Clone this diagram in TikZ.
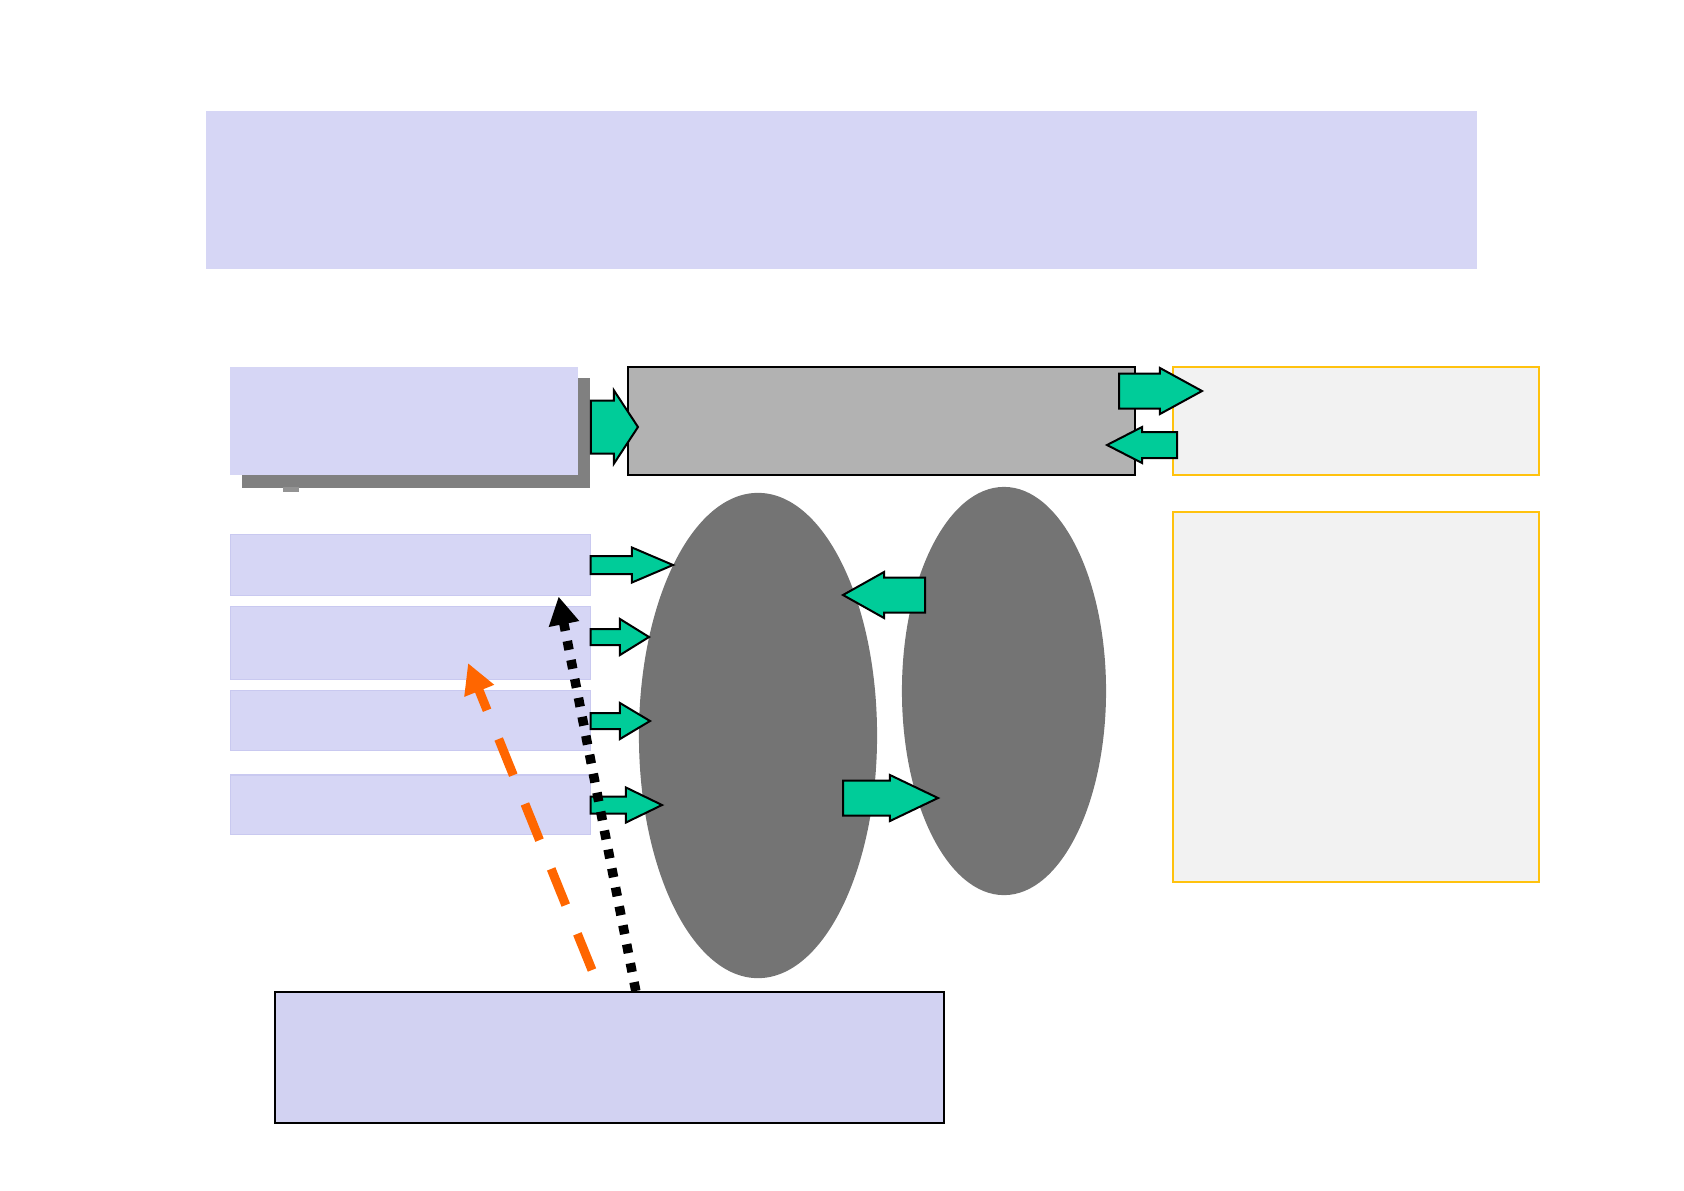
\documentclass[tikz,border=0pt]{standalone}
\usepackage{tikz}
\usetikzlibrary{arrows.meta,shapes.geometric,calc}

\definecolor{lavender}{HTML}{D6D6F5}
\definecolor{lavline}{HTML}{C9C9F0}
\definecolor{lavdark}{HTML}{D2D2F2}
\definecolor{coregray}{HTML}{B2B2B2}
\definecolor{ellgray}{HTML}{747474}
\definecolor{shadowgray}{HTML}{808080}
\definecolor{mint}{HTML}{00CC99}
\definecolor{amber}{HTML}{FFC20E}
\definecolor{paper}{HTML}{F2F2F2}
\definecolor{flame}{HTML}{FF6600}

% tail, tip, head length, half body, half head (same y for tail and tip)
\newcommand{\fatarrow}[5]{%
	\coordinate (hb) at ($(#2)!#3!(#1)$);
	\draw[fill=mint,draw=black,line width=0.2mm,line join=miter]
		($(#1)+(0,#4)$) -- ($(hb)+(0,#4)$) -- ($(hb)+(0,#5)$) -- (#2)
		-- ($(hb)+(0,-#5)$) -- ($(hb)+(0,-#4)$) -- ($(#1)+(0,-#4)$) -- cycle;
}

\begin{document}
\begin{tikzpicture}[x=0.01cm,y=-0.01cm]
	\useasboundingbox (0,0) rectangle (1684,1190);

	\begin{scope}[every node/.style={rectangle,inner sep=0pt,fill=lavender}]
	    \node[minimum width=127.1mm,minimum height=15.8mm] (title) at (841.5,190) {};
	    \node[fill=shadowgray,minimum width=34.8mm,minimum height=11mm] (shadow) at (416,433) {};
	    \node[minimum width=34.8mm,minimum height=10.8mm] (in1) at (404,421) {};
	\end{scope}
	\fill[shadowgray!85] (283,487) rectangle (299,492);

	\begin{scope}[every node/.style={rectangle,inner sep=0pt,fill=lavender,draw=lavline,line width=0.1mm,minimum width=35.9mm}]
	    \node[minimum height=6mm] (in2) at (410.5,565) {};
	    \node[minimum height=7.2mm] (in3) at (410.5,643) {};
	    \node[minimum height=5.9mm] (in4) at (410.5,720.5) {};
	    \node[minimum height=5.9mm] (in5) at (410.5,804.5) {};
	\end{scope}

	\begin{scope}[every node/.style={rectangle,inner sep=0pt,line width=0.2mm}]
	    \node[fill=coregray,draw=black,minimum width=50.7mm,minimum height=10.8mm] (core) at (881.5,421) {};
	    \node[fill=paper,draw=amber,minimum width=36.6mm,minimum height=10.8mm] (out1) at (1356,421) {};
	    \node[fill=paper,draw=amber,minimum width=36.6mm,minimum height=37mm] (out2) at (1356,697) {};
	    \node[fill=lavdark,draw=black,minimum width=66.9mm,minimum height=13.1mm] (base) at (609.5,1057.5) {};
	\end{scope}

	\begin{scope}[every node/.style={ellipse,inner sep=0pt,fill=ellgray}]
	    \node[minimum width=23.8mm,minimum height=48.5mm] (ell1) at (758,735.5) {};
	    \node[minimum width=20.4mm,minimum height=40.8mm] (ell2) at (1004,691) {};
	\end{scope}

	% block arrows
	\coordinate (a0) at (638,427);
	\coordinate (b1) at (1202,391);
	\coordinate (b2) at (1107,445);
	\coordinate (a1) at (673,565);
	\coordinate (a2) at (649,637);
	\coordinate (a3) at (650,721);
	\coordinate (a4) at (662,805);
	\coordinate (c1) at (843,595);
	\coordinate (c2) at (938,798);
	\fatarrow{shadow.east |- a0}{a0}{2.4mm}{26.5}{36.5}
	\fatarrow{1119,391}{b1}{4.2mm}{17.5}{23}
	\fatarrow{1177,445}{b2}{3.5mm}{13}{18}
	\fatarrow{in2.east |- a1}{a1}{4.1mm}{9}{17.5}
	\fatarrow{in3.east |- a2}{a2}{2.9mm}{8}{18}
	\fatarrow{in4.east |- a3}{a3}{3mm}{8}{18}
	\fatarrow{in5.east |- a4}{a4}{3.6mm}{8.5}{17.5}
	\fatarrow{925,595}{c1}{4.1mm}{17.5}{23}
	\fatarrow{843,798}{c2}{4.8mm}{17.5}{23}

	\coordinate (oS) at (592,970);
	\coordinate (oE) at (468,663);
	\coordinate (dS) at ($(base.north west)+(362,0)$);
	\coordinate (dE) at ($(in2.south east)+(-32,1)$);
	\begin{scope}[line cap=butt]
	    \draw[flame,line width=0.9mm,dash pattern=on 3.9mm off 3.1mm,
	          -{Triangle[length=3mm,width=3mm]}] (oS) -- (oE);
	    \draw[black,line width=0.95mm,dash pattern=on 0.9mm off 1.03mm,
	          -{Triangle[length=2.8mm,width=2.9mm]}] (dS) -- (dE);
	\end{scope}
\end{tikzpicture}
\end{document}
